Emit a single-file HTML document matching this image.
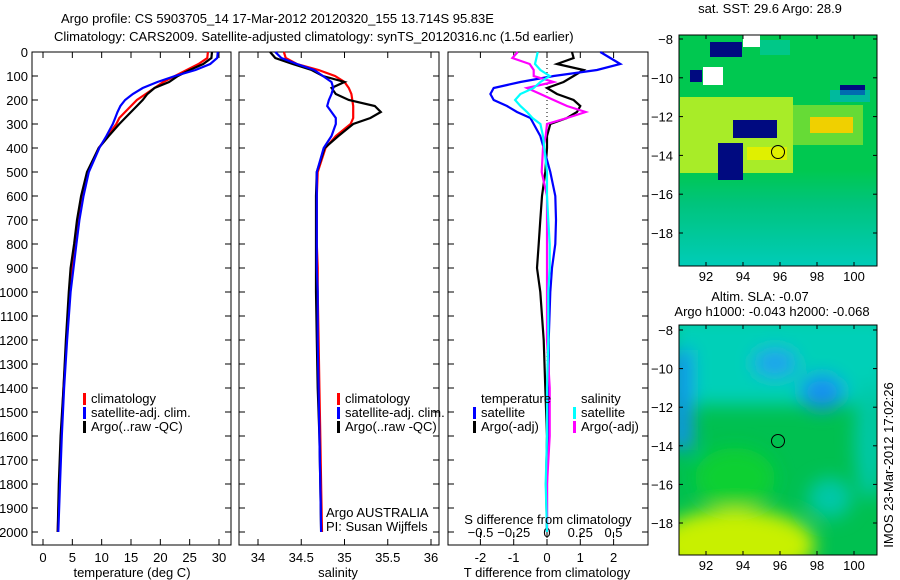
<!DOCTYPE html>
<html><head><meta charset="utf-8"><style>
html,body{margin:0;padding:0;background:#fff;width:900px;height:580px;overflow:hidden}
svg{display:block;font-family:"Liberation Sans",sans-serif}
text{font-size:13px;fill:#000}
</style></head><body>
<svg id="fig" width="900" height="580" viewBox="0 0 900 580">
<defs>
<filter id="blur" x="-50%" y="-50%" width="200%" height="200%"><feGaussianBlur stdDeviation="9"/></filter>
<clipPath id="clipA"><rect x="679" y="35" width="198" height="231"/></clipPath>
<clipPath id="clipB"><rect x="679" y="325" width="198" height="230"/></clipPath>
<linearGradient id="sstLow" x1="0" y1="0" x2="0" y2="1">
<stop offset="0" stop-color="#00c850"/><stop offset="0.35" stop-color="#00c47c"/><stop offset="1" stop-color="#00ccb8"/>
</linearGradient>
</defs>
<text x="61" y="23">Argo profile: CS 5903705_14 17-Mar-2012 20120320_155 13.714S 95.83E</text>
<text x="54" y="41">Climatology: CARS2009. Satellite-adjusted climatology: synTS_20120316.nc (1.5d earlier)</text>

<!-- SST map -->
<g clip-path="url(#clipA)">
<rect x="679" y="35" width="198" height="231" fill="#00c850"/>
<rect x="679" y="170" width="198" height="96" fill="url(#sstLow)"/>
<rect x="680" y="97" width="113" height="76" fill="#a8ec28"/>
<rect x="793" y="105" width="70" height="40" fill="#80e030" opacity="0.8"/>
<rect x="747" y="147" width="40" height="13" fill="#e0f000"/>
<rect x="810" y="117" width="43" height="16" fill="#f0d000"/>
<rect x="710" y="42" width="32" height="15" fill="#000a80"/>
<rect x="733" y="120" width="44" height="18" fill="#000a80"/>
<rect x="718" y="143" width="25" height="37" fill="#000a80"/>
<rect x="743" y="35" width="17" height="12" fill="#fff"/>
<rect x="703" y="67" width="20" height="18" fill="#fff"/>
<rect x="690" y="70" width="12" height="12" fill="#000a80"/>
<rect x="840" y="85" width="25" height="10" fill="#000a80"/>
<rect x="830" y="90" width="40" height="12" fill="#00b0d0" opacity="0.6"/>
<rect x="760" y="40" width="30" height="15" fill="#00c8a0" opacity="0.7"/>
</g>
<rect x="679" y="35" width="198" height="231" fill="none" stroke="#000"/>
<circle cx="778" cy="152" r="6.5" fill="none" stroke="#000"/>
<text x="770" y="13" text-anchor="middle">sat. SST: 29.6  Argo: 28.9</text>

<!-- SLA map -->
<g clip-path="url(#clipB)">
<rect x="679" y="325" width="198" height="230" fill="#00c050"/>
<g filter="url(#blur)">
<rect x="670" y="315" width="220" height="90" fill="#00d0b8"/>
<ellipse cx="775" cy="363" rx="22" ry="14" fill="#20a0f0"/>
<ellipse cx="822" cy="392" rx="22" ry="18" fill="#1890f0"/>
<rect x="672" y="350" width="20" height="100" fill="#1890f0"/>
<ellipse cx="830" cy="498" rx="22" ry="20" fill="#00c8a8"/>
<ellipse cx="870" cy="440" rx="15" ry="60" fill="#00c8a8"/>
<ellipse cx="735" cy="478" rx="40" ry="30" fill="#10d030"/>
<ellipse cx="735" cy="545" rx="80" ry="36" fill="#c8f000"/>
</g>
</g>
<rect x="679" y="325" width="198" height="230" fill="none" stroke="#000"/>
<circle cx="778" cy="441" r="6.5" fill="none" stroke="#000"/>
<text x="760" y="301" text-anchor="middle">Altim. SLA: -0.07</text>
<text x="772" y="316" text-anchor="middle">Argo h1000: -0.043 h2000: -0.068</text>
<text transform="translate(893,465) rotate(-90)" text-anchor="middle">IMOS 23-Mar-2012 17:02:26</text>
<g id="dyn"></g>
</svg>
<script>
const depths=[0,25,50,75,100,125,150,175,200,225,250,275,300,350,400,500,600,700,800,900,1000,1200,1400,1600,1800,2000];
const tempClim=[28.1,28,26.5,24.5,22.5,20.5,19,17.5,16,15,14,13,12.5,11,9.5,7.6,6.7,6,5.5,5,4.6,4,3.5,3.1,2.8,2.5];
const tempSat=[29.8,29.7,28.5,26,22.5,19.5,17,15.3,14,13.2,12.7,12.3,11.9,10.8,9.6,7.8,6.9,6.2,5.7,5.2,4.7,4.1,3.6,3.2,2.9,2.6];
const tempArgo=[28.8,28.7,27.3,25,23,21.5,19,17.8,17,16,15,14,13,11.2,9.5,7.5,6.5,5.8,5.3,4.7,4.4,3.9,3.5,3.0,2.7,2.5];
const salClim=[34.3,34.32,34.45,34.7,34.89,35.0,35.05,35.08,35.09,35.1,35.1,35.1,35.07,34.9,34.78,34.69,34.68,34.68,34.68,34.69,34.69,34.7,34.71,34.72,34.73,34.74];
const salSat=[34.2,34.27,34.45,34.65,34.75,34.85,34.87,34.85,34.82,34.8,34.85,34.9,34.9,34.85,34.76,34.68,34.68,34.68,34.68,34.68,34.69,34.69,34.7,34.71,34.72,34.73];
const salArgo=[34.14,34.2,34.4,34.62,34.75,35.0,34.85,34.9,35.05,35.35,35.42,35.3,35.1,34.93,34.77,34.68,34.67,34.67,34.67,34.67,34.67,34.68,34.69,34.71,34.72,34.73];
const dTSat=[1.6,1.9,2.2,1.5,0.2,-0.8,-1.6,-1.7,-1.6,-1.2,-0.9,-0.5,-0.4,-0.2,-0.1,0.1,0.25,0.27,0.25,0.15,0.1,0.05,0.05,0.02,0,0];
const dTArgo=[0.75,0.8,0.3,1.1,0.8,0.5,0,0.3,0.8,1.0,0.9,0.6,0.1,0,0,-0.05,-0.15,-0.2,-0.25,-0.3,-0.2,-0.1,-0.05,0,-0.03,0];
const dSSat=[-0.07,-0.08,-0.09,-0.05,0.02,-0.05,-0.1,-0.2,-0.24,-0.2,-0.15,-0.11,-0.05,-0.03,-0.02,0,0,0.01,0.02,0.02,0.01,0.01,0,0,-0.01,0];
const dSArgo=[-0.22,-0.26,-0.13,-0.1,-0.1,0.05,-0.15,-0.05,0.05,0.15,0.29,0.15,0,-0.01,-0.03,-0.04,0,0,0,0,0,0,0.02,0.02,0,0];
const depthTicks=[0,100,200,300,400,500,600,700,800,900,1000,1100,1200,1300,1400,1500,1600,1700,1800,1900,2000];
const tempTicks=[0,5,10,15,20,25,30];
const salTicks=[34,34.5,35,35.5,36];
const dTTicks=[-2,-1,0,1,2];
const dSTicks=[-0.5,-0.25,0,0.25,0.5];
const lonTicks=[92,94,96,98,100];
const latTicks=[-8,-10,-12,-14,-16,-18];

const NS='http://www.w3.org/2000/svg';
const g=document.getElementById('dyn');
function mk(tag,attrs,parent){const e=document.createElementNS(NS,tag);for(const k in attrs)e.setAttribute(k,attrs[k]);(parent||g).appendChild(e);return e;}
function txt(x,y,s,anchor,parent){const t=mk('text',{x:x,y:y,'text-anchor':anchor||'start'},parent);t.textContent=s;return t;}
const TOP=52,BOT=545;
const yD=d=>TOP+d*0.24;
const xT=v=>43+v*(219-43)/30;
const xS=v=>258+(v-34)*(431-258)/2;
const xDT=v=>547+v*33.3;
const xDS=v=>547+v*133;
function line(vals,xf,color,name){
  const pts=vals.map((v,i)=>xf(v).toFixed(1)+','+yD(depths[i]).toFixed(1)).join(' ');
  const p=mk('polyline',{points:pts,fill:'none',stroke:color,'stroke-width':2.2});
  
  
}
function frame(x0,x1,name){
  const r=mk('rect',{x:x0,y:TOP,width:x1-x0,height:BOT-TOP,fill:'none',stroke:'#000','stroke-width':1});
  
  
  depthTicks.forEach(d=>{mk('line',{x1:x0,x2:x0+6,y1:yD(d),y2:yD(d),stroke:'#000'});mk('line',{x1:x1,x2:x1-6,y1:yD(d),y2:yD(d),stroke:'#000'});});
}
function xticks(vals,xf,y,lab,labelY){
  vals.forEach(v=>{const x=xf(v);mk('line',{x1:x,x2:x,y1:BOT,y2:BOT-6,stroke:'#000'});mk('line',{x1:x,x2:x,y1:TOP,y2:TOP+6,stroke:'#000'});
    const t=txt(x,labelY,String(v),'middle');
    
    });
}
frame(32,231,'temperature-panel');
depthTicks.forEach(d=>{const t=txt(28,yD(d)+5,String(d),'end');
  
  });
xticks(tempTicks,xT,BOT,null,562);
line(tempClim,xT,'#ff0000','temp-climatology-line');
line(tempArgo,xT,'#000000','temp-argo-line');
line(tempSat,xT,'#0000ff','temp-satellite-line');
let t1=txt(132,577,'temperature (deg C)','middle');


frame(239,439,'salinity-panel');
xticks(salTicks,xS,BOT,null,562);
line(salClim,xS,'#ff0000','sal-climatology-line');
line(salArgo,xS,'#000000','sal-argo-line');
line(salSat,xS,'#0000ff','sal-satellite-line');
let t2=txt(338,577,'salinity','middle');


frame(448,648,'difference-panel');
mk('line',{x1:547,x2:547,y1:TOP,y2:420,stroke:'#000','stroke-dasharray':'1,3'});
dTTicks.forEach(v=>{const x=xDT(v);mk('line',{x1:x,x2:x,y1:BOT,y2:BOT-6,stroke:'#000'});mk('line',{x1:x,x2:x,y1:TOP,y2:TOP+6,stroke:'#000'});
  const t=txt(x,562,String(v),'middle');
  
  });
dSTicks.forEach(v=>{const x=xDS(v);mk('line',{x1:x,x2:x,y1:BOT-13,y2:BOT-7,stroke:'#000'});
  const t=txt(x,537,String(v).replace('-','\u2212'),'middle');
  
  });
line(dTArgo,xDT,'#000000','tdiff-argo-line');
line(dTSat,xDT,'#0000ff','tdiff-satellite-line');
line(dSArgo,xDS,'#ff00ff','sdiff-argo-line');
line(dSSat,xDS,'#00ffff','sdiff-satellite-line');
let t3=txt(547,577,'T difference from climatology','middle');


let t4=txt(548,524,'S difference from climatology','middle');


function legItem(x,y,color,label,name){
  mk('rect',{x:x,y:y-10,width:3,height:12,fill:color});
  const t=txt(x+8,y,label);
  
  
}
legItem(83,403,'#ff0000','climatology','legend-climatology');
legItem(83,417,'#0000ff','satellite-adj. clim.','legend-satellite-adj');
legItem(83,431,'#000000','Argo(..raw -QC)','legend-argo');
legItem(337,403,'#ff0000','climatology','legend-sal-climatology');
legItem(337,417,'#0000ff','satellite-adj. clim.','legend-sal-satellite-adj');
legItem(337,431,'#000000','Argo(..raw -QC)','legend-sal-argo');
let lt=txt(481,403,'temperature');
let ls=txt(581,403,'salinity');
legItem(473,417,'#0000ff','satellite','legend-t-satellite');
legItem(473,431,'#000000','Argo(-adj)','legend-t-argo');
legItem(573,417,'#00ffff','satellite','legend-s-satellite');
legItem(573,431,'#ff00ff','Argo(-adj)','legend-s-argo');
let a1=txt(326,517,'Argo AUSTRALIA');
let a2=txt(326,531,'PI: Susan Wijffels');
function mapAxes(y0,y1,latY,labY){
  lonTicks.forEach(l=>{const x=706+(l-92)*18.5;mk('line',{x1:x,x2:x,y1:y1,y2:y1-4,stroke:'#000'});mk('line',{x1:x,x2:x,y1:y0,y2:y0+4,stroke:'#000'});
    const t=txt(x,labY,String(l),'middle');
    
    });
  latTicks.forEach(l=>{const y=latY(l);mk('line',{x1:679,x2:683,y1:y,y2:y,stroke:'#000'});mk('line',{x1:877,x2:873,y1:y,y2:y,stroke:'#000'});
    const t=txt(673,y+5,String(l).replace('-','\u2212'),'end');
    
    });
}
mapAxes(35,266,l=>39+(-8-l)*19.4,281);
mapAxes(325,555,l=>330+(-8-l)*19.3,570);
</script>
</body></html>
